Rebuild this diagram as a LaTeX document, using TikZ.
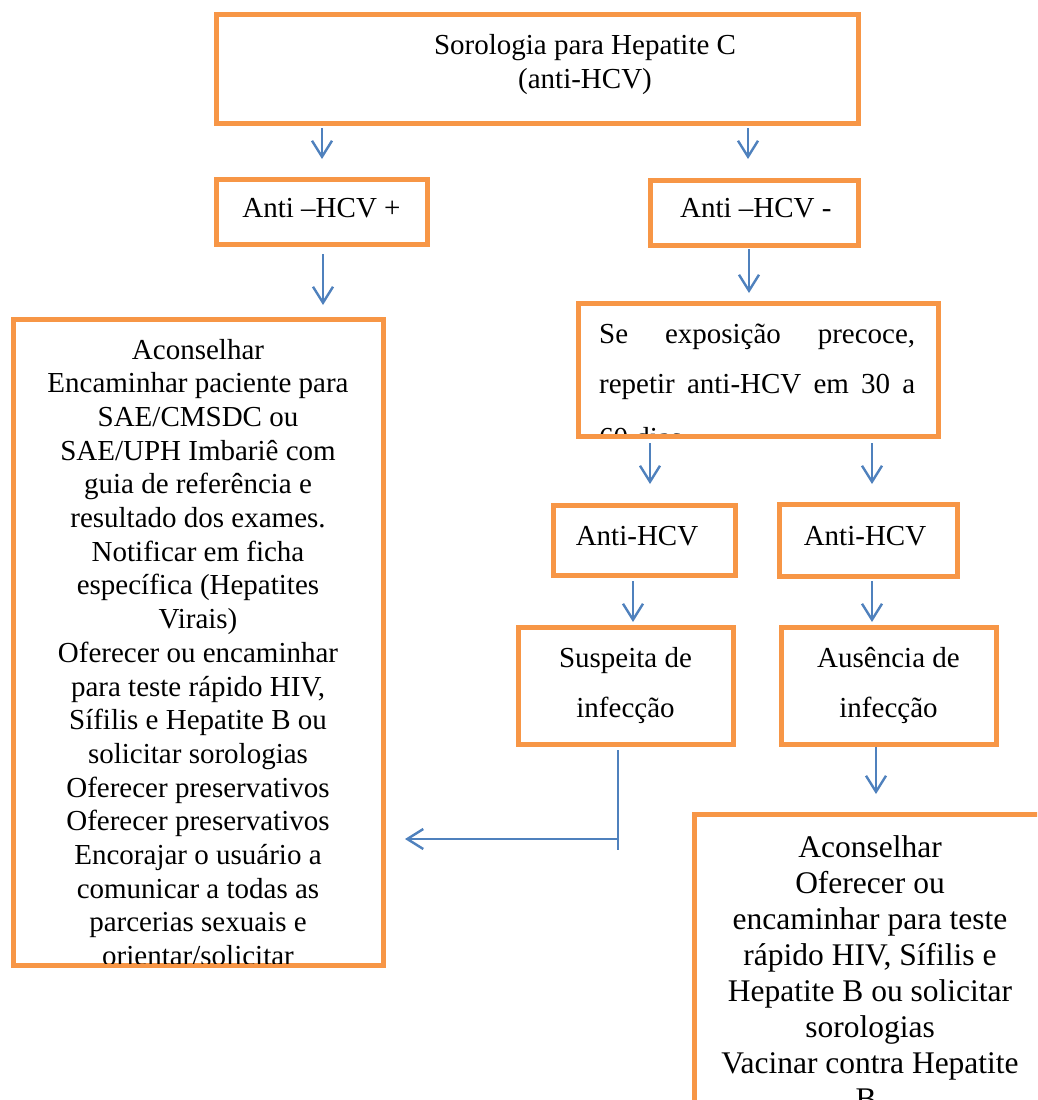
\documentclass[tikz,border=0pt]{standalone}
\usepackage{fontspec}
\setmainfont{Liberation Serif}
\usetikzlibrary{arrows.meta}
\definecolor{boxorange}{HTML}{F79646}
\definecolor{flowblue}{HTML}{4F81BD}
\begin{document}
\begin{tikzpicture}[x=1pt,y=-1pt,
  box/.style={draw=boxorange,line width=5pt,rectangle,inner sep=0pt,outer sep=0pt},
  flow/.style={draw=flowblue,line width=2.4pt,line join=round,
    -{Straight Barb[length=16pt,width=20pt]}},
  thinline/.style={draw=flowblue,line width=1.3pt},
  txt/.style={inner sep=0pt,font=\fontsize{29}{34}\selectfont},
  bigtxt/.style={inner sep=0pt,font=\fontsize{31.5}{36}\selectfont}]

% page frame
\clip (0,0) rectangle (1037,1100);
\fill[white] (0,0) rectangle (1037,1100);

% ---------- boxes ----------
\node[box,minimum width=642pt,minimum height=108.5pt] (top)  at (537,68.75) {};
\node[box,minimum width=211pt,minimum height=65pt]    (pos)  at (321.5,211.5) {};
\node[box,minimum width=208pt,minimum height=65pt]    (neg)  at (754,212.5) {};
\node[box,minimum width=360pt,minimum height=132.5pt] (rep)  at (758,369.75) {};
\node[box,minimum width=182pt,minimum height=70pt]    (ahl)  at (644,540.5) {};
\node[box,minimum width=178pt,minimum height=72.5pt]  (ahr)  at (868,540.25) {};
\node[box,minimum width=215pt,minimum height=116.5pt] (susp) at (625.5,685.75) {};
\node[box,minimum width=215pt,minimum height=116.5pt] (aus)  at (888.5,685.75) {};

% ---------- box texts ----------
\node[txt,anchor=base] (t1) at (585,54) {Sorologia para Hepatite C};
\node[txt,anchor=base] (t2) at (585,88) {(anti-HCV)};
\node[txt,anchor=base] (tpos) at (321.5,217) {Anti –HCV +};
\node[txt,anchor=base] (tneg) at (755.8,217) {Anti –HCV -};
\node[txt,anchor=base] (tahl) at (637,545) {Anti-HCV};
\node[txt,anchor=base] (tahr) at (865,545) {Anti-HCV};
\node[txt,anchor=base] (ts1) at (625.5,667) {Suspeita de};
\node[txt,anchor=base] (ts2) at (625.5,717) {infecção};
\node[txt,anchor=base] (ta1) at (888.5,667) {Ausência de};
\node[txt,anchor=base] (ta2) at (888.5,717) {infecção};

% justified text, cut off by the box
\begin{scope}
  \clip (580.5,306) rectangle (935.5,433.5);
  \node[txt,anchor=base west] (r1) at (599,343) {\makebox[316pt][s]{Se exposição precoce,}};
  \node[txt,anchor=base west] (r2) at (599,393) {\makebox[316pt][s]{repetir anti-HCV em 30 a}};
  \node[txt,anchor=base west] (r3) at (599,447) {60 dias.};
\end{scope}

% left column of actions, cut off by the box
\node[box,minimum width=370pt,minimum height=646pt] (left) at (198,642.5) {};
\begin{scope}
  \clip (15.5,322) rectangle (380.5,963);
  \foreach \ln [count=\i from 0] in {Aconselhar,Encaminhar paciente para,SAE/CMSDC ou,
      SAE/UPH Imbariê com,guia de referência e,resultado dos exames.,Notificar em ficha,
      específica (Hepatites,Virais),Oferecer ou encaminhar,{para teste rápido HIV,},
      Sífilis e Hepatite B ou,solicitar sorologias,Oferecer preservativos,
      Oferecer preservativos,Encorajar o usuário a,comunicar a todas as,
      parcerias sexuais e,orientar/solicitar}
    \node[txt,anchor=base] (left\i) at ({198},{359+33.7*\i}) {\ln};
\end{scope}

% right column of actions, running past the page edge
\node[box,minimum width=366pt,minimum height=316pt] (right) at (877,972) {};
\foreach \ln [count=\i from 0] in {Aconselhar,Oferecer ou,encaminhar para teste,
    {rápido HIV, Sífilis e},Hepatite B ou solicitar,sorologias,Vacinar contra Hepatite,B.}
  \node[bigtxt,anchor=base] (right\i) at ({870},{857+36*\i}) {\ln};

% ---------- connectors ----------
\coordinate (c1a) at (322,128);  \coordinate (c1b) at (322,159);
\coordinate (c2a) at (748,128);  \coordinate (c2b) at (748,159);
\coordinate (c3a) at (323,254);  \coordinate (c3b) at (323,305);
\coordinate (c4a) at (749,249);  \coordinate (c4b) at (749,293);
\coordinate (c5a) at (650,443);  \coordinate (c5b) at (650,484);
\coordinate (c6a) at (872,443);  \coordinate (c6b) at (872,484);
\coordinate (c7a) at (633,581);  \coordinate (c7b) at (633,622);
\coordinate (c8a) at (872,581);  \coordinate (c8b) at (872,622);
\coordinate (c9a) at (876,747);  \coordinate (c9b) at (876,794);
\coordinate (sa) at (618,750);   \coordinate (sb) at (618,850);
\coordinate (ha) at (617,839);   \coordinate (hb) at (405,839);

\draw[flow] (c1a) -- (c1b);
\draw[flow] (c2a) -- (c2b);
\draw[flow] (c3a) -- (c3b);
\draw[flow] (c4a) -- (c4b);
\draw[flow] (c5a) -- (c5b);
\draw[flow] (c6a) -- (c6b);
\draw[flow] (c7a) -- (c7b);
\draw[flow] (c8a) -- (c8b);
\draw[flow] (c9a) -- (c9b);
\draw[thinline] (sa) -- (sb);
\draw[flow] (ha) -- (hb);
\end{tikzpicture}
\end{document}
